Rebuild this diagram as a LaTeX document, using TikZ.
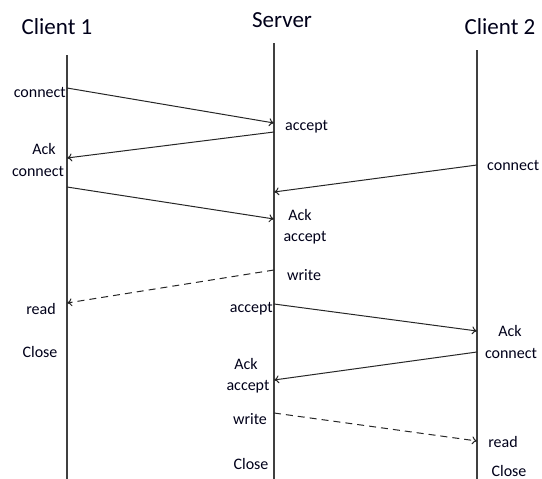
\documentclass[tikz,border=0pt]{standalone}
\usepackage{fontspec}
\setmainfont{Carlito}
\usetikzlibrary{arrows.meta}

\begin{document}
\begin{tikzpicture}[x=1pt, y=-1pt,
	lifeline/.style={draw=black!75, line width=1.2pt},
	msg/.style={-{To[length=5pt,width=8pt]}, draw=black!85, line width=1pt},
	async/.style={msg, dash pattern=on 7pt off 5pt},
	head/.style={font=\fontsize{23}{26}\selectfont, text=black!90!blue},
	lbl/.style={font=\fontsize{16}{18}\selectfont, inner sep=0pt, text=black!90!blue}]
	\useasboundingbox (0,0) rectangle (542,479);
	
	% participants
	\node [head] (client1) at (57,27) {Client 1};
	\node [head] (server)  at (282,20) {Server};
	\node [head] (client2) at (500,27) {Client 2};
	
	\coordinate (c1top) at (67,55);  \coordinate (c1bot) at (67,479);
	\coordinate (svtop) at (274,43); \coordinate (svbot) at (274,479);
	\coordinate (c2top) at (477,50); \coordinate (c2bot) at (477,479);
	
	\draw [lifeline] (c1top) -- (c1bot);
	\draw [lifeline] (svtop) -- (svbot);
	\draw [lifeline] (c2top) -- (c2bot);
	
	% message end points
	\coordinate (a1) at (67,88);   \coordinate (b1) at (274,123);
	\coordinate (a2) at (274,132); \coordinate (b2) at (67,158);
	\coordinate (a3) at (67,187);  \coordinate (b3) at (274,219);
	\coordinate (a4) at (477,165); \coordinate (b4) at (274,192);
	\coordinate (a5) at (274,270); \coordinate (b5) at (67,303);
	\coordinate (a6) at (274,304); \coordinate (b6) at (477,331);
	\coordinate (a7) at (477,352); \coordinate (b7) at (274,380);
	\coordinate (a8) at (274,413); \coordinate (b8) at (477,441);
	
	\draw [msg]   (a1) -- (b1);
	\draw [msg]   (a2) -- (b2);
	\draw [msg]   (a3) -- (b3);
	\draw [msg]   (a4) -- (b4);
	\draw [async] (a5) -- (b5);
	\draw [msg]   (a6) -- (b6);
	\draw [msg]   (a7) -- (b7);
	\draw [async] (a8) -- (b8);
	
	% client 1 labels
	\node [lbl, anchor=east] (c1conn) at (66,92) {connect};
	\node [lbl] (c1ack)  at (44,149) {Ack};
	\node [lbl] (c1ackc) at (38,171) {connect};
	\node [lbl] (c1read) at (41,309) {read};
	\node [lbl] (c1close) at (40,352) {Close};
	
	% server labels
	\node [lbl, anchor=west] (svacc1) at (285,127) {accept};
	\node [lbl] (svack1) at (300,215) {Ack};
	\node [lbl] (svacc2) at (305,238) {accept};
	\node [lbl, anchor=west] (svwrite1) at (287,275) {write};
	\node [lbl, anchor=east] (svacc3) at (273,309) {accept};
	\node [lbl] (svack2) at (246,364) {Ack};
	\node [lbl] (svacc4) at (248,387) {accept};
	\node [lbl] (svwrite2) at (250,419) {write};
	\node [lbl] (svclose) at (251,464) {Close};
	
	% client 2 labels
	\node [lbl, anchor=west] (c2conn) at (487,165) {connect};
	\node [lbl] (c2ack)  at (510,331) {Ack};
	\node [lbl] (c2ackc) at (511,353) {connect};
	\node [lbl] (c2read) at (503,442) {read};
	\node [lbl] (c2close) at (509,471) {Close};
\end{tikzpicture}
\end{document}
